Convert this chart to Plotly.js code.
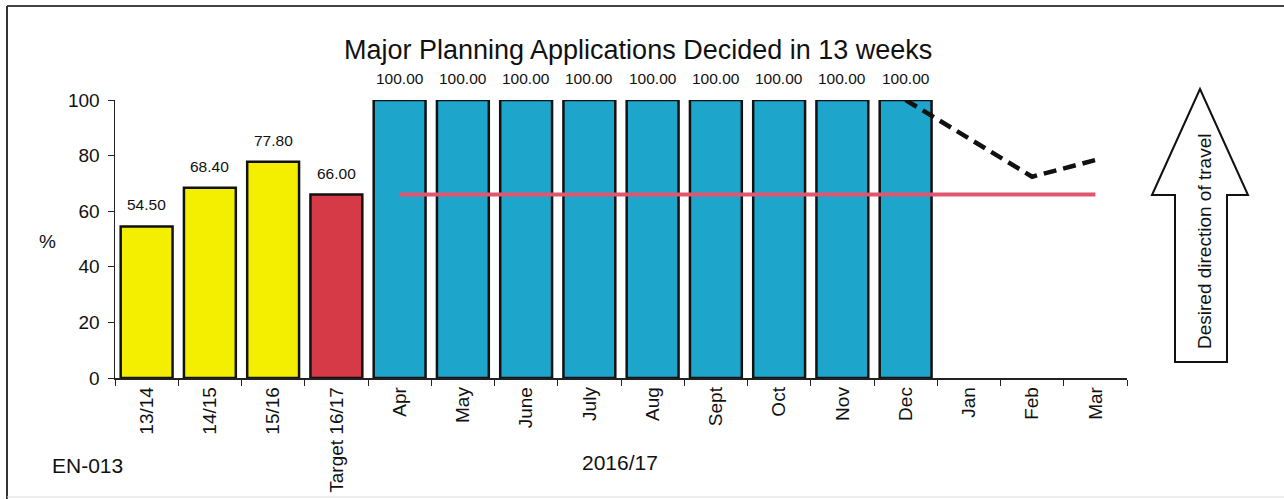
<!DOCTYPE html>
<html>
<head>
<meta charset="utf-8">
<script src="https://cdn.plot.ly/plotly-3.0.1.min.js"></script>
<style>
html,body{margin:0;padding:0;background:#fff;}
#chart{width:1284px;height:499px;}
</style>
</head>
<body>
<div id="chart"></div>
<script>
// ---- data ----
const allCategories = ['13/14','14/15','15/16','Target 16/17','Apr','May','June','July','Aug','Sept','Oct','Nov','Dec','Jan','Feb','Mar'];
const historyCats = ['13/14','14/15','15/16'];
const historyVals = [54.5, 68.4, 77.8];
const targetCats = ['Target 16/17'];
const targetVals = [66.0];
const monthCats = ['Apr','May','June','July','Aug','Sept','Oct','Nov','Dec'];
const monthVals = [100, 100, 100, 100, 100, 100, 100, 100, 100];
const targetLineCats = ['Apr','Mar'];
const targetLineVals = [66, 66];
const trendCats = ['Dec','Jan','Feb','Mar'];
const trendVals = [100, 86, 72.4, 78.4];

const FONT = 'Liberation Sans, Arial, sans-serif';
const barLine = {color:'#111', width:2.5};

const traces = [
  {type:'bar', x:historyCats, y:historyVals, marker:{color:'#f4ef00', line:barLine}, cliponaxis:false},
  {type:'bar', x:targetCats, y:targetVals, marker:{color:'#d63a46', line:barLine}, cliponaxis:false},
  {type:'bar', x:monthCats, y:monthVals, marker:{color:'#1ea5cc', line:barLine}, cliponaxis:false},
  {type:'scatter', mode:'lines', x:targetLineCats, y:targetLineVals, line:{color:'#e0566e', width:4}, cliponaxis:false},
  {type:'scatter', mode:'lines', x:trendCats, y:trendVals, line:{color:'#111', width:4.5, dash:'13px,7px'}, cliponaxis:false}
];

// value labels built from the data arrays
const labelAnn = [];
[[historyCats,historyVals],[targetCats,targetVals],[monthCats,monthVals]].forEach(([cs,vs])=>{
  cs.forEach((c,i)=>labelAnn.push({x:c, y:vs[i], xref:'x', yref:'y', text:vs[i].toFixed(2),
    showarrow:false, xanchor:'center', yanchor:'bottom', yshift:11, font:{family:FONT,size:15.5,color:'#111'}}));
});

// geometry in paper coords (plot area 115..1127 x, 100..378 y)
const px = v => (v-115)/1012;
const py = v => (378-v)/278;
const arrowPath = 'M '+px(1152)+','+py(195)+' L '+px(1200)+','+py(89)+' L '+px(1248)+','+py(195)+
  ' L '+px(1227)+','+py(195)+' L '+px(1227)+','+py(362)+' L '+px(1175)+','+py(362)+' L '+px(1175)+','+py(195)+' Z';

const layout = {
  width:1284, height:499,
  margin:{l:115, r:157, t:100, b:121},
  paper_bgcolor:'#fff', plot_bgcolor:'#fff',
  showlegend:false,
  barmode:'overlay', bargap:0.18,
  font:{family:FONT, color:'#111'},
  title:{text:'Major Planning Applications Decided in 13 weeks', font:{family:FONT,size:27,color:'#111'},
    x:0.497, xanchor:'center', y:1-50/499, yanchor:'middle', xref:'container', yref:'container'},
  xaxis:{type:'category', categoryorder:'array', categoryarray:allCategories, range:[-0.5,15.5],
    tickangle:-90, tickfont:{family:FONT,size:19,color:'#111'}, showline:true, linecolor:'#222', linewidth:1.5,
    ticks:'outside', tickson:'boundaries', ticklen:6, tickcolor:'#222', showgrid:false, zeroline:false, fixedrange:true},
  yaxis:{range:[0,100], tickvals:[0,20,40,60,80,100], tickfont:{family:FONT,size:19,color:'#111'},
    showline:true, linecolor:'#222', linewidth:1.5, ticks:'outside', ticklen:6, tickcolor:'#222',
    ticklabelstandoff:4, showgrid:false, zeroline:false, fixedrange:true},
  shapes:[
    {type:'path', xref:'paper', yref:'paper', path:arrowPath, line:{color:'#111', width:2}, fillcolor:'#fff'},
    {type:'line', xref:'paper', yref:'paper', x0:px(7), x1:px(1284), y0:py(6), y1:py(6), line:{color:'#444', width:2}},
    {type:'line', xref:'paper', yref:'paper', x0:px(7), x1:px(7), y0:py(6), y1:py(499), line:{color:'#333', width:2}},
    {type:'line', xref:'paper', yref:'paper', x0:px(7), x1:px(1284), y0:py(497), y1:py(497), line:{color:'#ddd', width:1}}
  ],
  annotations: labelAnn.concat([
    {xref:'paper', yref:'paper', x:px(1205), y:py(242), xanchor:'center', yanchor:'middle', text:'Desired direction of travel', textangle:-90,
      showarrow:false, font:{family:FONT,size:19,color:'#111'}},
    {xref:'paper', yref:'paper', x:px(47), y:py(242), xanchor:'center', yanchor:'middle', text:'%', showarrow:false, font:{family:FONT,size:19,color:'#111'}},
    {xref:'paper', yref:'paper', x:px(87), y:py(465), xanchor:'center', yanchor:'middle', text:'EN-013', showarrow:false, font:{family:FONT,size:21,color:'#111'}},
    {xref:'paper', yref:'paper', x:px(620), y:py(462), xanchor:'center', yanchor:'middle', text:'2016/17', showarrow:false, font:{family:FONT,size:21,color:'#111'}}
  ])
};

Plotly.newPlot('chart', traces, layout, {displayModeBar:false, staticPlot:true});
</script>
</body>
</html>
